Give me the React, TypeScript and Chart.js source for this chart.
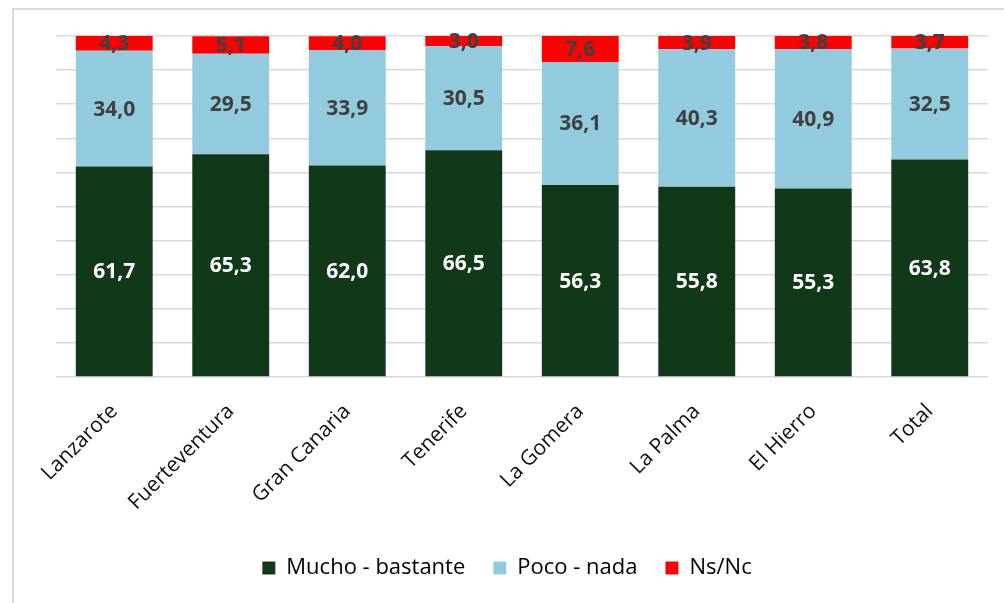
import { useEffect, useRef } from "react";
import { Chart, registerables } from "chart.js";

Chart.register(...registerables);

const islands = [
  "Lanzarote",
  "Fuerteventura",
  "Gran Canaria",
  "Tenerife",
  "La Gomera",
  "La Palma",
  "El Hierro",
  "Total",
];
const muchoBastante = [61.7, 65.3, 62.0, 66.5, 56.3, 55.8, 55.3, 63.8];
const pocoNada = [34.0, 29.5, 33.9, 30.5, 36.1, 40.3, 40.9, 32.5];
const nsNc = [4.3, 5.1, 4.0, 3.0, 7.6, 3.9, 3.8, 3.7];
const seriesNames = ["Mucho - bastante", "Poco - nada", "Ns/Nc"];
const seriesColors = ["#12381a", "#92cbdd", "#ff0000"];
const valueColors = ["#ffffff", "#404040", "#404040"];

const FONT = "'Open Sans', 'DejaVu Sans', sans-serif";

// Writes each segment's value (decimal comma) in the middle of its bar piece.
const valueLabels = {
  id: "valueLabels",
  afterDatasetsDraw(chart: any) {
    const ctx = chart.ctx;
    ctx.save();
    ctx.font = `bold 21px ${FONT}`;
    ctx.textAlign = "center";
    ctx.textBaseline = "middle";
    chart.data.datasets.forEach((ds: any, di: number) => {
      const meta = chart.getDatasetMeta(di);
      meta.data.forEach((bar: any, i: number) => {
        const { x, y, base } = bar.getProps(["x", "y", "base"], true);
        const v = ds.data[i] as number;
        ctx.fillStyle = valueColors[di];
        ctx.fillText(v.toFixed(1).replace(".", ","), x, (y + base) / 2 + 1);
      });
    });
    ctx.restore();
  },
};

export default function App() {
  const canvasRef = useRef<HTMLCanvasElement | null>(null);

  useEffect(() => {
    if (!canvasRef.current) return;
    const chart = new Chart(canvasRef.current, {
      type: "bar",
      data: {
        labels: islands,
        datasets: [muchoBastante, pocoNada, nsNc].map((values, i) => ({
          label: seriesNames[i],
          data: values,
          backgroundColor: seriesColors[i],
          borderWidth: 0,
          categoryPercentage: 1,
          barPercentage: 0.66,
        })),
      },
      options: {
        animation: false,
        responsive: false,
        devicePixelRatio: 1,
        layout: { padding: { top: 36, right: 16, bottom: 14, left: 26 } },
        plugins: {
          tooltip: { enabled: false },
          legend: {
            position: "bottom",
            labels: {
              boxWidth: 13,
              boxHeight: 13,
              padding: 28,
              color: "#000000",
              font: { family: FONT, size: 22 },
            },
          },
        },
        scales: {
          x: {
            stacked: true,
            grid: { display: false },
            border: { display: false },
            ticks: {
              minRotation: 45,
              maxRotation: 45,
              padding: 14,
              color: "#111111",
              font: { family: FONT, size: 21 },
            },
            afterFit(scale: any) {
              scale.height = 152;
            },
          },
          y: {
            stacked: true,
            min: 0,
            max: 100,
            ticks: { display: false, stepSize: 10 },
            border: { display: false },
            grid: { color: "#d9d9d9", lineWidth: 1.5, drawTicks: false },
            afterFit(scale: any) {
              scale.width = 30;
            },
          },
        },
      },
      plugins: [valueLabels],
    });
    return () => chart.destroy();
  }, []);

  return (
    <div
      style={{
        position: "fixed",
        left: 0,
        top: 0,
        width: 1004,
        height: 603,
        background: "#ffffff",
        overflow: "hidden",
      }}
    >
      <div
        style={{
          position: "absolute",
          left: 12,
          top: 8,
          width: 1100,
          height: 700,
          border: "2px solid #d9d9d9",
        }}
      />
      <canvas
        ref={canvasRef}
        width={1004}
        height={603}
        style={{ position: "absolute", left: 0, top: 0, display: "block" }}
      />
    </div>
  );
}
